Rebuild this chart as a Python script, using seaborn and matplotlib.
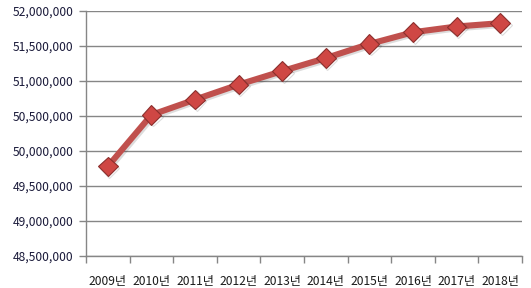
import matplotlib
matplotlib.use("Agg")
import matplotlib.pyplot as plt
import matplotlib.patheffects as pe
from matplotlib.ticker import FuncFormatter, FixedLocator
import seaborn as sns
import pandas as pd

years = ["2009년", "2010년", "2011년", "2012년", "2013년", "2014년", "2015년", "2016년", "2017년", "2018년"]
population = [49780000, 50515666, 50734284, 50948272, 51141463, 51327916, 51529338, 51696216, 51778544, 51826059]
y_ticks = [48500000, 49000000, 49500000, 50000000, 50500000, 51000000, 51500000, 52000000]

sns.set_theme(style="white")
plt.rcParams["font.family"] = ["Noto Sans CJK KR", "DejaVu Sans"]

df = pd.DataFrame({"year": years, "pop": population})

fig = plt.figure(figsize=(5.31, 2.88), dpi=100)
ax = fig.add_axes([86 / 531, 1 - 256 / 288, (522 - 86) / 531, (256 - 11) / 288])

red = "#C0504D"
sns.lineplot(data=df, x="year", y="pop", ax=ax, color=red, linewidth=4.4,
             marker="D", markersize=10, markerfacecolor="#CF4744", markeredgecolor="#8C2F2D",
             markeredgewidth=0.8, sort=False,
             path_effects=[pe.SimpleLineShadow(offset=(1.2, -1.2), alpha=0.15), pe.Normal()])

ax.set_ylim(48500000, 52000000)
ax.set_xlim(-0.5, len(years) - 0.5)
ax.set_yticks(y_ticks)
ax.yaxis.set_major_formatter(FuncFormatter(lambda v, p: f"{int(v):,}"))
ax.set_xticks(range(len(years)))
ax.set_xticklabels(years)
ax.xaxis.set_minor_locator(FixedLocator([i - 0.5 for i in range(len(years) + 1)]))
ax.tick_params(axis="x", which="major", length=0, pad=14, labelsize=8.7, colors="#1a1a1a")
ax.tick_params(axis="x", which="minor", length=5, width=1, color="#868686", direction="out", bottom=True)
ax.tick_params(axis="y", length=5, width=1, color="#868686", direction="out", left=True,
               labelsize=8.7, labelcolor="#1a1a3a", pad=4)
ax.grid(axis="y", color="#868686", linewidth=1)
ax.set_axisbelow(True)
for s in ["top", "right"]:
    ax.spines[s].set_visible(False)
for s in ["left", "bottom"]:
    ax.spines[s].set_color("#868686")
    ax.spines[s].set_linewidth(1)
ax.set_xlabel("")
ax.set_ylabel("")

fig.savefig("out.png", dpi=100)
